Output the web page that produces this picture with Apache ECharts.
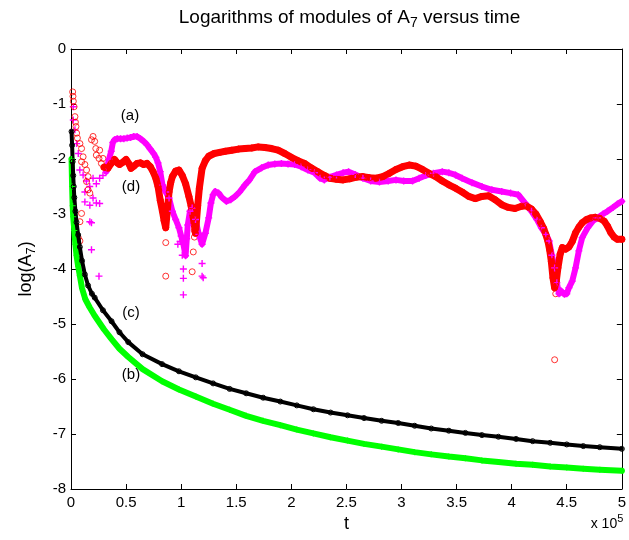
<!DOCTYPE html>
<html>
<head>
<meta charset="utf-8">
<title>Logarithms of modules of A7 versus time</title>
<script src="https://cdn.jsdelivr.net/npm/echarts@6/dist/echarts.min.js"></script>
<style>
  html, body { margin: 0; padding: 0; background: #fff; }
  #chart { width: 629px; height: 540px; }
</style>
</head>
<body>
<div id="chart"></div>
<script>
// t is given in units of 1e5 (the axis shows "x 10^5")
var xTicks = [0, 0.5, 1, 1.5, 2, 2.5, 3, 3.5, 4, 4.5, 5];
var yTicks = [-8, -7, -6, -5, -4, -3, -2, -1, 0];

// (d) red circles: main band
var redPoints = [
  [0.30,-2.15],[0.335,-2.17],[0.365,-2.08],[0.395,-2.01],[0.42,-2.07],[0.44,-2.10],[0.47,-2.06],
  [0.50,-2.01],[0.53,-2.10],[0.545,-2.17],[0.57,-2.13],[0.60,-2.08],[0.63,-2.07],[0.66,-2.10],
  [0.69,-2.08],[0.72,-2.14],[0.745,-2.23],[0.77,-2.35],[0.79,-2.50],[0.81,-2.75],[0.83,-2.95],
  [0.845,-3.12],[0.86,-3.25],[0.89,-2.60],[0.905,-2.43],[0.92,-2.32],[0.95,-2.22],[0.98,-2.20],
  [1.01,-2.30],[1.04,-2.45],[1.07,-2.68],[1.09,-2.85],[1.11,-3.07],[1.13,-3.35],[1.15,-2.85],
  [1.165,-2.53],[1.19,-2.17],[1.22,-2.03],[1.25,-1.95],[1.30,-1.90],[1.35,-1.88],[1.40,-1.86],
  [1.46,-1.84],[1.52,-1.82],[1.58,-1.81],[1.64,-1.80],[1.70,-1.78],[1.76,-1.79],[1.82,-1.81],
  [1.88,-1.84],[1.94,-1.90],[2.00,-1.97],[2.06,-2.03],[2.12,-2.08],[2.18,-2.16],[2.24,-2.23],
  [2.30,-2.30],[2.35,-2.35],[2.41,-2.37],[2.47,-2.38],[2.53,-2.36],[2.59,-2.33],[2.65,-2.32],
  [2.71,-2.34],[2.77,-2.35],[2.83,-2.32],[2.89,-2.26],[2.95,-2.19],[3.01,-2.14],[3.07,-2.11],
  [3.13,-2.13],[3.19,-2.19],[3.25,-2.26],[3.31,-2.32],[3.37,-2.40],[3.43,-2.47],[3.49,-2.53],
  [3.55,-2.60],[3.61,-2.68],[3.67,-2.72],[3.73,-2.68],[3.79,-2.67],[3.85,-2.74],[3.91,-2.83],
  [3.97,-2.88],[4.03,-2.90],[4.09,-2.86],[4.13,-2.85],[4.18,-2.91],[4.22,-3.00],[4.26,-3.14],
  [4.29,-3.26],[4.31,-3.37],[4.33,-3.50],[4.345,-3.65],[4.36,-3.86],[4.375,-4.16],[4.39,-4.34],
  [4.405,-4.22],[4.42,-3.98],[4.44,-3.73],[4.46,-3.61],[4.49,-3.64],[4.52,-3.60],[4.55,-3.50],
  [4.58,-3.34],[4.61,-3.24],[4.64,-3.16],[4.68,-3.10],[4.72,-3.07],[4.76,-3.06],[4.80,-3.08],
  [4.84,-3.13],[4.87,-3.22],[4.90,-3.34],[4.93,-3.42],[4.96,-3.46],[5.00,-3.46]
];
// (d) red circles: early cloud and isolated points
var redScatter = [
  [0.015,-0.78],[0.018,-0.86],[0.021,-0.95],[0.028,-1.05],[0.036,-1.23],[0.040,-1.33],[0.045,-1.41],
  [0.051,-1.53],[0.058,-1.62],[0.081,-1.72],[0.096,-1.81],[0.110,-1.96],[0.096,-2.05],[0.126,-2.10],
  [0.141,-2.20],[0.155,-2.32],[0.141,-2.41],[0.155,-2.56],[0.171,-2.62],[0.096,-2.99],[0.081,-3.14],
  [0.066,-3.43],[0.081,-3.49],[0.186,-1.65],[0.200,-1.59],[0.215,-1.68],[0.225,-1.81],[0.230,-1.93],
  [0.260,-1.84],[0.254,-1.99],[0.276,-2.08],[0.290,-1.99],[0.305,-2.14],
  [0.853,-3.06],[0.86,-3.52],[0.86,-4.13],[1.12,-3.30],[1.12,-3.42],[1.11,-3.69],[1.10,-4.05],
  [4.40,-4.45],[4.39,-5.65]
];

// (a) magenta pluses: main band
var magPoints = [
  [0.32,-2.23],[0.345,-2.00],[0.365,-1.86],[0.38,-1.70],[0.395,-1.65],[0.42,-1.63],[0.45,-1.63],
  [0.48,-1.63],[0.51,-1.62],[0.54,-1.61],[0.57,-1.59],[0.60,-1.59],[0.63,-1.63],[0.66,-1.68],
  [0.69,-1.74],[0.72,-1.82],[0.75,-1.90],[0.77,-1.97],[0.79,-2.07],[0.81,-2.23],[0.83,-2.47],
  [0.86,-2.60],[0.89,-2.71],[0.92,-2.95],[0.95,-3.10],[0.98,-3.25],[1.00,-3.40],[1.02,-3.55],
  [1.04,-3.76],[1.06,-3.20],[1.08,-2.95],[1.10,-2.89],[1.13,-3.10],[1.16,-3.37],[1.19,-3.55],
  [1.22,-3.35],[1.25,-3.07],[1.27,-2.80],[1.29,-2.65],[1.31,-2.59],[1.34,-2.62],[1.37,-2.70],
  [1.41,-2.77],[1.45,-2.74],[1.49,-2.68],[1.53,-2.60],[1.58,-2.47],[1.62,-2.38],[1.67,-2.23],
  [1.73,-2.16],[1.79,-2.11],[1.85,-2.09],[1.91,-2.08],[1.97,-2.09],[2.03,-2.10],[2.09,-2.14],
  [2.15,-2.20],[2.21,-2.25],[2.26,-2.35],[2.30,-2.38],[2.35,-2.33],[2.41,-2.29],[2.47,-2.25],
  [2.52,-2.23],[2.58,-2.28],[2.65,-2.35],[2.72,-2.40],[2.80,-2.42],[2.88,-2.40],[2.95,-2.38],
  [3.02,-2.40],[3.10,-2.40],[3.16,-2.35],[3.22,-2.30],[3.29,-2.26],[3.37,-2.23],[3.43,-2.25],
  [3.49,-2.29],[3.55,-2.35],[3.64,-2.43],[3.73,-2.50],[3.82,-2.56],[3.91,-2.59],[3.99,-2.62],
  [4.06,-2.65],[4.12,-2.80],[4.18,-2.95],[4.23,-3.10],[4.27,-3.25],[4.31,-3.37],[4.34,-3.49],
  [4.365,-3.75],[4.39,-3.98],[4.41,-4.25],[4.43,-4.45],[4.45,-4.40],[4.48,-4.46],[4.50,-4.45],
  [4.52,-4.34],[4.55,-4.22],[4.58,-3.98],[4.61,-3.67],[4.64,-3.43],[4.69,-3.25],[4.74,-3.12],
  [4.78,-3.07],[4.83,-3.00],[4.87,-2.95],[4.92,-2.88],[4.96,-2.82],[5.00,-2.77]
];
// (a) magenta pluses: early cloud and isolated points
var magScatter = [
  [0.021,-1.05],[0.021,-1.29],[0.036,-1.47],[0.051,-1.72],[0.066,-1.90],[0.080,-2.20],[0.110,-2.29],
  [0.140,-2.40],[0.126,-2.60],[0.126,-2.78],[0.170,-2.50],[0.171,-2.84],[0.186,-3.16],[0.200,-2.35],
  [0.230,-2.45],[0.260,-2.35],[0.290,-2.30],[0.200,-2.71],[0.230,-2.80],[0.260,-2.81],
  [0.171,-3.14],[0.186,-3.65],[0.254,-4.13],
  [0.97,-3.55],[0.99,-3.50],[1.01,-3.75],[1.02,-4.00],[1.02,-4.17],[1.02,-4.47],[1.05,-3.45],
  [1.13,-3.11],[1.17,-3.35],[1.19,-3.90],[1.19,-4.13],[1.20,-4.16]
];

// (c) black circles
var blackPoints = [
  [0.005,-1.50],[0.010,-1.75],[0.015,-2.05],[0.020,-2.30],[0.025,-2.50],[0.030,-2.70],[0.040,-2.95],
  [0.050,-3.15],[0.065,-3.38],[0.080,-3.60],[0.100,-3.85],[0.126,-4.10],[0.155,-4.30],[0.190,-4.45],
  [0.215,-4.52],[0.29,-4.75],[0.368,-4.95],[0.44,-5.15],[0.52,-5.33],[0.65,-5.55],[0.827,-5.73],
  [0.98,-5.86],[1.133,-5.97],[1.29,-6.08],[1.44,-6.18],[1.59,-6.26],[1.744,-6.34],[1.90,-6.41],
  [2.05,-6.48],[2.20,-6.55],[2.356,-6.61],[2.51,-6.66],[2.66,-6.71],[2.82,-6.76],[2.97,-6.80],
  [3.12,-6.85],[3.27,-6.90],[3.43,-6.94],[3.58,-6.98],[3.73,-7.02],[3.88,-7.05],[4.04,-7.09],
  [4.19,-7.13],[4.35,-7.16],[4.50,-7.19],[4.65,-7.22],[4.80,-7.24],[5.00,-7.27]
];
// (b) green stars
var greenPoints = [
  [0.005,-2.00],[0.010,-2.50],[0.015,-2.85],[0.020,-3.05],[0.030,-3.30],[0.040,-3.55],[0.050,-3.75],
  [0.065,-3.95],[0.080,-4.12],[0.100,-4.35],[0.130,-4.55],[0.170,-4.70],[0.215,-4.85],[0.30,-5.10],
  [0.37,-5.28],[0.44,-5.45],[0.52,-5.60],[0.65,-5.82],[0.827,-6.04],[0.98,-6.19],[1.133,-6.32],
  [1.29,-6.45],[1.44,-6.56],[1.59,-6.67],[1.744,-6.76],[1.90,-6.84],[2.05,-6.92],[2.20,-6.99],
  [2.356,-7.06],[2.51,-7.12],[2.66,-7.18],[2.82,-7.23],[2.97,-7.28],[3.12,-7.33],[3.27,-7.37],
  [3.43,-7.41],[3.58,-7.44],[3.73,-7.48],[3.88,-7.51],[4.04,-7.54],[4.19,-7.56],[4.35,-7.59],
  [4.50,-7.61],[4.65,-7.63],[4.80,-7.65],[5.00,-7.67]
];

var FONT = '"Liberation Sans", Arial, sans-serif';
var plusPath = 'path://M4,0H6V4H10V6H6V10H4V6H0V4H4Z';

var chart = echarts.init(document.getElementById('chart'));

function boxAxis(pos, isX) {
  return {
    type: 'value',
    position: pos,
    min: isX ? xTicks[0] : yTicks[0],
    max: isX ? xTicks[xTicks.length - 1] : yTicks[yTicks.length - 1],
    interval: isX ? 0.5 : 1,
    axisLine: { show: true, onZero: false, lineStyle: { color: '#000', width: 1 } },
    axisTick: { show: true, inside: true, length: 5, lineStyle: { color: '#000' } },
    axisLabel: { show: false },
    splitLine: { show: false }
  };
}

var xMain = boxAxis('bottom', true);
xMain.axisLabel = { show: true, color: '#000', fontSize: 15, fontFamily: FONT, margin: 6,
  showMaxLabel: true, showMinLabel: true, hideOverlap: false };
xMain.name = 't';
xMain.nameLocation = 'middle';
xMain.nameGap = 25;
xMain.nameTextStyle = { color: '#000', fontSize: 18, fontFamily: FONT };

var yMain = boxAxis('left', false);
yMain.axisLabel = { show: true, color: '#000', fontSize: 15, fontFamily: FONT, margin: 5 };
yMain.name = 'log(A{s|7})';
yMain.nameLocation = 'middle';
yMain.nameRotate = 90;
yMain.nameGap = 33;
yMain.nameTextStyle = { color: '#000', fontSize: 18, fontFamily: FONT,
  rich: { s: { fontSize: 13, fontFamily: FONT, color: '#000', padding: [10, 0, 0, 0] } } };

var xTop = boxAxis('top', true);
var yRight = boxAxis('right', false);

function bandSeries(name, data, color, width, symbol, size, hollow) {
  return {
    name: name, type: 'line', data: data, xAxisIndex: 0, yAxisIndex: 0,
    showSymbol: true, symbol: symbol, symbolSize: size,
    lineStyle: { color: color, width: width, cap: 'round', join: 'round' },
    itemStyle: hollow ? { color: 'rgba(0,0,0,0)', borderColor: color, borderWidth: 1 } : { color: color },
    emphasis: { disabled: true }
  };
}
function cloudSeries(name, data, color, symbol, size, hollow) {
  return {
    name: name, type: 'scatter', data: data, xAxisIndex: 0, yAxisIndex: 0,
    symbol: symbol, symbolSize: size,
    itemStyle: hollow ? { color: 'rgba(0,0,0,0)', borderColor: color, borderWidth: 1 } : { color: color, opacity: 1 },
    emphasis: { disabled: true }
  };
}

function label(text, x, y) {
  return { type: 'text', x: x, y: y, style: { text: text, align: 'center', verticalAlign: 'middle',
    fill: '#000', font: '15px ' + FONT } };
}

var option = {
  animation: false,
  backgroundColor: '#fff',
  grid: { left: 71, right: 1, top: 49, bottom: 51 },
  xAxis: [xMain, xTop],
  yAxis: [yMain, yRight],
  series: [
    bandSeries('(b)', greenPoints, '#00ff00', 6, plusPath, 6, false),
    bandSeries('(c)', blackPoints, '#000000', 4, 'circle', 5, true),
    bandSeries('(a)', magPoints, '#ff00ff', 6, plusPath, 7, false),
    cloudSeries('(a) cloud', magScatter, '#ff00ff', plusPath, 7, false),
    bandSeries('(d)', redPoints, '#ff0000', 7, 'circle', 6, true),
    cloudSeries('(d) cloud', redScatter, '#ff0000', 'circle', 6, true)
  ],
  graphic: [
    { type: 'text', x: 349.5, y: 18, style: {
        text: '{n|Logarithms of modules of A}{s|7}{n| versus time}',
        align: 'center', verticalAlign: 'middle', fill: '#000',
        rich: {
          n: { fontSize: 19, fontFamily: FONT, fill: '#000' },
          s: { fontSize: 14, fontFamily: FONT, fill: '#000', padding: [11, 0, 0, 0] }
        } } },
    { type: 'text', x: 607, y: 524, style: {
        text: '{n|x 10}{s|5}', align: 'center', verticalAlign: 'middle', fill: '#000',
        rich: {
          n: { fontSize: 14, fontFamily: FONT, fill: '#000' },
          s: { fontSize: 11, fontFamily: FONT, fill: '#000', padding: [0, 0, 10, 0] }
        } } },
    label('(a)', 130, 116),
    label('(d)', 131, 187),
    label('(c)', 131, 313),
    label('(b)', 131, 375)
  ]
};
chart.setOption(option);
</script>
</body>
</html>
